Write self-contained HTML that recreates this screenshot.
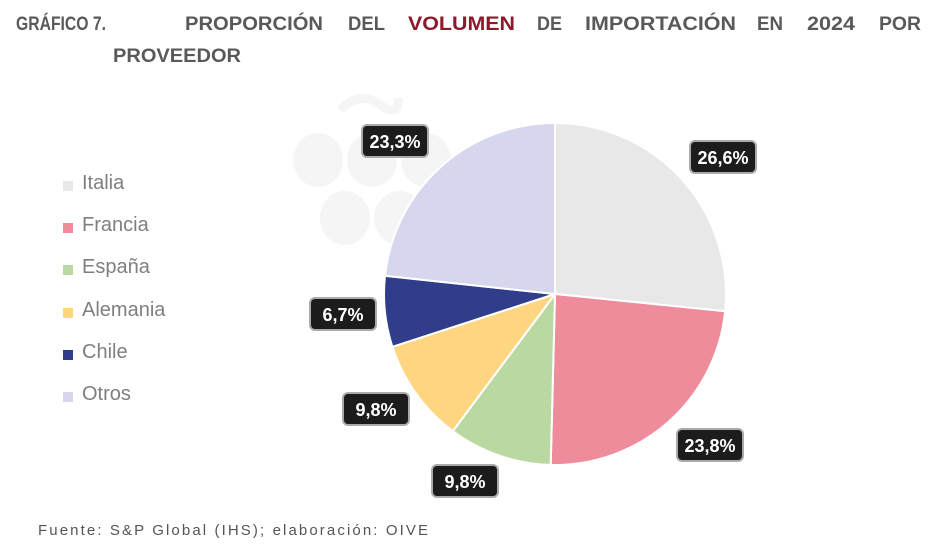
<!DOCTYPE html>
<html><head><meta charset="utf-8"><style>body{margin:0;background:#fff}svg{display:block}</style></head>
<body>
<svg width="942" height="553" xmlns="http://www.w3.org/2000/svg" font-family="Liberation Sans, sans-serif">
<rect width="942" height="553" fill="#fff"/>
<g font-weight="bold" font-size="19" fill="#595959">
<text x="16" y="30" textLength="90" lengthAdjust="spacingAndGlyphs">GRÁFICO 7.</text>
<text x="185" y="30" textLength="138" lengthAdjust="spacingAndGlyphs">PROPORCIÓN</text>
<text x="348" y="30" textLength="37" lengthAdjust="spacingAndGlyphs">DEL</text>
<text x="408" y="30" textLength="107" lengthAdjust="spacingAndGlyphs" fill="#8b1a2b">VOLUMEN</text>
<text x="537" y="30" textLength="25" lengthAdjust="spacingAndGlyphs">DE</text>
<text x="585" y="30" textLength="151" lengthAdjust="spacingAndGlyphs">IMPORTACIÓN</text>
<text x="757" y="30" textLength="26" lengthAdjust="spacingAndGlyphs">EN</text>
<text x="807" y="30" textLength="48" lengthAdjust="spacingAndGlyphs">2024</text>
<text x="879" y="30" textLength="42" lengthAdjust="spacingAndGlyphs">POR</text>
<text x="113" y="62" textLength="128" lengthAdjust="spacingAndGlyphs">PROVEEDOR</text>
</g>
<g fill="#f5f5f5">
<ellipse cx="318" cy="160" rx="25" ry="27"/><ellipse cx="372" cy="160" rx="25" ry="27"/><ellipse cx="426" cy="160" rx="25" ry="27"/>
<ellipse cx="345" cy="218" rx="25" ry="27"/><ellipse cx="399" cy="218" rx="25" ry="27"/>
<path d="M340 110 Q360 90 380 105 Q400 118 398 98" stroke="#f5f5f5" stroke-width="9" fill="none"/>
</g>
<g stroke="#fff" stroke-width="2">
<path d="M555 294 L555 123 A171 171 0 0 1 725.1 311.2 Z" fill="#e8e8e8"/>
<path d="M555 294 L725.1 311.2 A171 171 0 0 1 550.7 464.9 Z" fill="#ef8c9c"/>
<path d="M555 294 L550.7 464.9 A171 171 0 0 1 452.8 431.1 Z" fill="#bad8a1"/>
<path d="M555 294 L452.8 431.1 A171 171 0 0 1 392.4 346.8 Z" fill="#fed581"/>
<path d="M555 294 L392.4 346.8 A171 171 0 0 1 385.0 275.8 Z" fill="#2f3d8a"/>
<path d="M555 294 L385.0 275.8 A171 171 0 0 1 555 123 Z" fill="#d6d6ee"/>
</g>
<g font-weight="bold" font-size="18" fill="#fff" text-anchor="middle">
<g><rect x="690" y="141" width="66" height="32" rx="5" fill="#1c1c1c" stroke="#aaa" stroke-width="2"/><text x="723" y="164">26,6%</text></g>
<g><rect x="362" y="125" width="66" height="32" rx="5" fill="#1c1c1c" stroke="#aaa" stroke-width="2"/><text x="395" y="148">23,3%</text></g>
<g><rect x="310" y="298" width="66" height="32" rx="5" fill="#1c1c1c" stroke="#aaa" stroke-width="2"/><text x="343" y="321">6,7%</text></g>
<g><rect x="343" y="393" width="66" height="32" rx="5" fill="#1c1c1c" stroke="#aaa" stroke-width="2"/><text x="376" y="416">9,8%</text></g>
<g><rect x="432" y="465" width="66" height="32" rx="5" fill="#1c1c1c" stroke="#aaa" stroke-width="2"/><text x="465" y="488">9,8%</text></g>
<g><rect x="677" y="429" width="66" height="32" rx="5" fill="#1c1c1c" stroke="#aaa" stroke-width="2"/><text x="710" y="452">23,8%</text></g>
</g>
<g font-size="20" fill="#7f7f7f">
<rect x="63" y="181" width="10" height="10" fill="#e8e8e8"/><text x="82" y="189">Italia</text>
<rect x="63" y="223" width="10" height="10" fill="#ef8c9c"/><text x="82" y="231">Francia</text>
<rect x="63" y="265" width="10" height="10" fill="#bad8a1"/><text x="82" y="273">España</text>
<rect x="63" y="308" width="10" height="10" fill="#fed581"/><text x="82" y="316">Alemania</text>
<rect x="63" y="350" width="10" height="10" fill="#2f3d8a"/><text x="82" y="358">Chile</text>
<rect x="63" y="392" width="10" height="10" fill="#d6d6ee"/><text x="82" y="400">Otros</text>
</g>
<text x="38" y="535" font-size="15" fill="#555" textLength="390" lengthAdjust="spacing">Fuente: S&amp;P Global (IHS); elaboración: OIVE</text>
</svg>
</body></html>
